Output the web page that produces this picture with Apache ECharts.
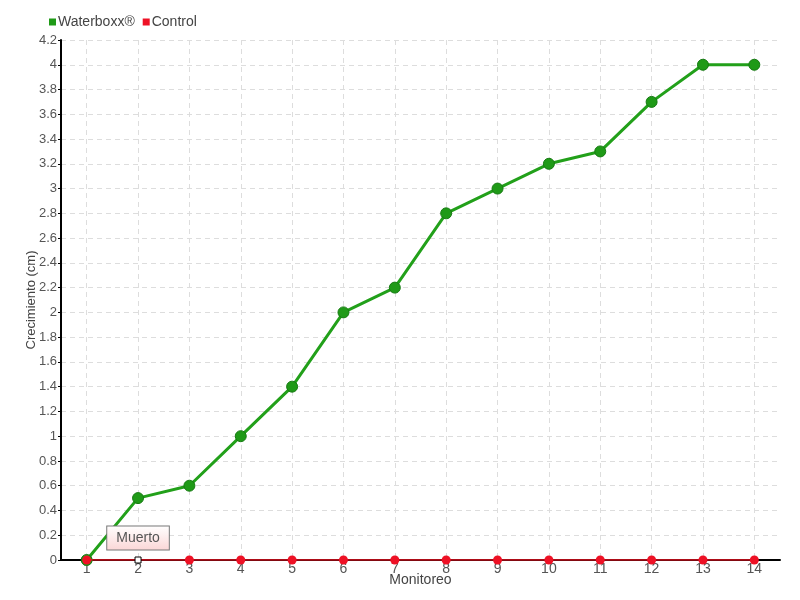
<!DOCTYPE html>
<html>
<head>
<meta charset="utf-8">
<script src="https://cdn.jsdelivr.net/npm/echarts@6/dist/echarts.min.js"></script>
<style>
    html, body { margin: 0; padding: 0; background: #fff; }
    #main { width: 800px; height: 600px; }
</style>
</head>
<body>
<div id="main"></div>
<script>
    // datos
    const monitoreo = ['1', '2', '3', '4', '5', '6', '7', '8', '9', '10', '11', '12', '13', '14'];
    const waterboxx = [0, 0.5, 0.6, 1, 1.4, 2, 2.2, 2.8, 3, 3.2, 3.3, 3.7, 4, 4];
    const control = [0, 0, 0, 0, 0, 0, 0, 0, 0, 0, 0, 0, 0, 0];
    const muertoIdx = 1;

    const font = "'Liberation Sans', Arial, sans-serif";
    const chart = echarts.init(document.getElementById('main'));

    const controlData = control.map((v, i) => {
        if (i !== muertoIdx) return v;
        return {
            value: v,
            symbol: 'rect',
            symbolSize: 6,
            itemStyle: { color: '#fff', borderColor: '#000', borderWidth: 1 },
            label: {
                show: true,
                formatter: 'Muerto',
                position: 'top',
                distance: 7,
                color: '#555',
                fontFamily: font,
                fontSize: 14,
                padding: [5, 9, 4, 9],
                borderColor: '#777',
                borderWidth: 1,
                backgroundColor: {
                    type: 'linear', x: 0, y: 0, x2: 0, y2: 1,
                    colorStops: [{ offset: 0, color: '#ffffff' }, { offset: 1, color: '#fbd6d6' }]
                }
            }
        };
    });

    const option = {
        animation: false,
        color: ['#22a01a', '#ee1125'],
        textStyle: { fontFamily: font },
        legend: {
            left: 44,
            top: 10,
            itemWidth: 7,
            itemHeight: 7,
            itemGap: 8,
            icon: 'rect',
            itemStyle: { borderWidth: 0 },
            textStyle: { color: '#444', fontSize: 14, fontFamily: font, padding: [0, 0, 0, -3] },
            data: ['Waterboxx®', 'Control']
        },
        grid: { left: 61, right: 20, top: 40, bottom: 40 },
        xAxis: {
            type: 'category',
            data: monitoreo,
            boundaryGap: true,
            name: 'Monitoreo',
            nameLocation: 'middle',
            nameGap: 13,
            nameMoveOverlap: false,
            nameTextStyle: { color: '#444', fontSize: 14, fontFamily: font },
            axisLine: { lineStyle: { color: '#000', width: 2 } },
            axisTick: { show: false, alignWithLabel: true },
            axisLabel: { color: '#555', fontSize: 14, fontFamily: font, margin: 2 },
            splitLine: { show: true, alignWithLabel: true, lineStyle: { color: '#ddd', type: [5, 4] } }
        },
        yAxis: {
            type: 'value',
            min: 0,
            max: 4.2,
            interval: 0.2,
            name: 'Crecimiento (cm)',
            nameLocation: 'middle',
            nameGap: 23,
            nameMoveOverlap: false,
            nameTextStyle: { color: '#444', fontSize: 13, fontFamily: font },
            axisLine: { show: true, lineStyle: { color: '#000', width: 2 } },
            axisTick: { show: true, length: 3, lineStyle: { color: '#000' } },
            axisLabel: {
                color: '#555', fontSize: 13, fontFamily: font, margin: 4,
                formatter: v => String(Math.round(v * 10) / 10)
            },
            splitLine: { lineStyle: { color: '#ddd', type: [5, 4] } }
        },
        series: [
            {
                name: 'Waterboxx®',
                type: 'line',
                data: waterboxx,
                symbol: 'circle',
                symbolSize: 11,
                lineStyle: { width: 3, color: '#22a01a' },
                itemStyle: { color: '#1f9a17', borderColor: '#167a12', borderWidth: 1 },
                z: 3
            },
            {
                name: 'Control',
                type: 'line',
                data: controlData,
                symbol: 'circle',
                symbolSize: 9,
                lineStyle: { width: 1.5, color: '#e8101f' },
                itemStyle: { color: '#ee1125' },
                z: 4
            }
        ]
    };
    chart.setOption(option);
</script>
</body>
</html>
